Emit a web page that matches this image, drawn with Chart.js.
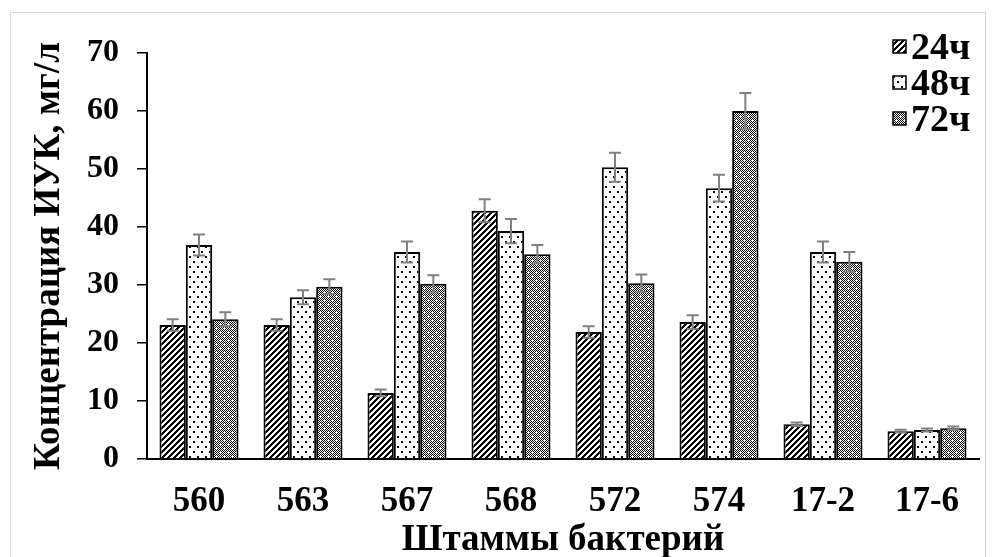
<!DOCTYPE html>
<html>
<head>
<meta charset="utf-8">
<script src="https://cdn.jsdelivr.net/npm/chart.js@4.4.1/dist/chart.umd.min.js"></script>
<style>
body{margin:0;background:#fff;}
#frame{position:absolute;left:10px;top:12px;width:974px;height:560px;border:1px solid #d9d9d9;}
#wrap{position:absolute;left:0;top:0;width:995px;height:557px;}
</style>
</head>
<body>
<div id="frame"></div>
<div id="wrap"><canvas id="chart" width="995" height="557"></canvas></div>
<script>
// strains and values (mg/l)
let strains = ['560', '563', '567', '568', '572', '574', '17-2', '17-6'];
let seriesNames = ['24ч', '48ч', '72ч'];
let h24 = [23.1, 23.1, 11.4, 42.8, 21.9, 23.6, 6.0, 4.8];
let h48 = [36.9, 27.9, 35.7, 39.3, 50.3, 46.7, 35.7, 5.0];
let h72 = [24.1, 29.7, 30.2, 35.3, 30.3, 60.0, 34.0, 5.3];
let err24 = [1.0, 1.0, 0.6, 2.0, 1.0, 1.2, 0.3, 0.25];
let err48 = [1.8, 1.2, 1.8, 2.1, 2.5, 2.3, 1.8, 0.25];
let err72 = [1.2, 1.3, 1.5, 1.6, 1.5, 3.1, 1.7, 0.3];
let yTicks = [0, 10, 20, 30, 40, 50, 60, 70];

let font = "'Liberation Serif', 'Times New Roman', serif";

function makeTile(w, h, fn) {
    let c = document.createElement('canvas');
    c.width = w; c.height = h;
    let g = c.getContext('2d');
    g.fillStyle = '#fff';
    g.fillRect(0, 0, w, h);
    g.fillStyle = '#000';
    for (let y = 0; y < h; y++) {
        for (let x = 0; x < w; x++) {
            if (fn(x, y)) g.fillRect(x, y, 1, 1);
        }
    }
    return c;
}

let tileHatch = makeTile(6, 6, function(x, y) { return (x + y) % 6 < 3; });
let tileDots = makeTile(8, 10, function(x, y) {
    return (x >= 1 && x <= 2 && y >= 1 && y <= 2) || (x >= 5 && x <= 6 && y >= 6 && y <= 7);
});
let tileCheck = makeTile(8, 8, function(x, y) {
    let white = (x == 4 && y >= 3 && y <= 5) || (y == 4 && x >= 3 && x <= 5) ||
        (x == 0 && (y <= 1 || y == 7)) || (y == 0 && (x <= 1 || x == 7));
    if (white) return false;
    return (x + y) % 2 == 0;
});

let ctx = document.getElementById('chart').getContext('2d');
let patterns = [
    ctx.createPattern(tileHatch, 'repeat'),
    ctx.createPattern(tileDots, 'repeat'),
    ctx.createPattern(tileCheck, 'repeat')
];
let errors = [err24, err48, err72];

let errorBars = {
    id: 'errorBars',
    afterDatasetsDraw(chart) {
        let c = chart.ctx;
        let ys = chart.scales.y;
        c.save();
        c.strokeStyle = '#808080';
        c.lineWidth = 2;
        chart.data.datasets.forEach(function(ds, i) {
            let meta = chart.getDatasetMeta(i);
            meta.data.forEach(function(bar, j) {
                let v = ds.data[j];
                let e = errors[i][j];
                let top = ys.getPixelForValue(v + e);
                let bot = ys.getPixelForValue(v - e);
                c.beginPath();
                c.moveTo(bar.x, top); c.lineTo(bar.x, bot);
                c.moveTo(bar.x - 6, top); c.lineTo(bar.x + 6, top);
                c.moveTo(bar.x - 6, bot); c.lineTo(bar.x + 6, bot);
                c.stroke();
            });
        });
        c.restore();
    }
};

let boxLegend = {
    id: 'boxLegend',
    afterDraw(chart) {
        let c = chart.ctx;
        let rows = [47, 83, 119];
        c.save();
        c.font = 'bold 38px ' + font;
        c.textBaseline = 'middle';
        c.textAlign = 'left';
        seriesNames.forEach(function(name, i) {
            c.fillStyle = patterns[i];
            c.fillRect(893, rows[i] - 7, 13, 13);
            c.strokeStyle = '#000';
            c.lineWidth = 1.5;
            c.strokeRect(893, rows[i] - 7, 13, 13);
            c.fillStyle = '#000';
            c.fillText(name, 911, rows[i] + 2);
        });
        c.restore();
    }
};

let myChart = new Chart(ctx, {
    type: 'bar',
    data: {
        labels: strains,
        datasets: [h24, h48, h72].map(function(d, i) {
            return {
                label: seriesNames[i],
                data: d,
                backgroundColor: patterns[i],
                borderColor: '#000',
                borderWidth: 2,
                categoryPercentage: 0.76,
                barPercentage: 1.0
            };
        })
    },
    options: {
        responsive: false,
        animation: false,
        layout: { padding: { top: 53, right: 16, bottom: 0, left: 0 } },
        plugins: {
            legend: { display: false },
            tooltip: { enabled: false }
        },
        scales: {
            x: {
                grid: { display: false },
                border: { color: '#000', width: 2 },
                ticks: { color: '#000', font: { family: font, size: 35, weight: 'bold' }, padding: 14 },
                title: { display: true, text: 'Штаммы бактерий', color: '#000',
                    font: { family: font, size: 37, weight: 'bold' }, padding: { top: 0, bottom: -6 } },
                afterFit: function(s) { s.height = 98; }
            },
            y: {
                min: 0, max: 70,
                afterBuildTicks: function(s) { s.ticks = yTicks.map(function(v) { return { value: v }; }); },
                grid: { drawOnChartArea: false, drawTicks: true, tickLength: 10, color: '#000', lineWidth: 1.5 },
                border: { color: '#000', width: 2 },
                ticks: { color: '#000', font: { family: font, size: 32, weight: 'bold' }, padding: 18 },
                title: { display: true, text: 'Концентрация ИУК, мг/л', color: '#000',
                    font: { family: font, size: 37, weight: 'bold' }, padding: { top: 27, bottom: 0 } },
                afterFit: function(s) { s.width = 147; }
            }
        }
    },
    plugins: [errorBars, boxLegend]
});
</script>
</body>
</html>
